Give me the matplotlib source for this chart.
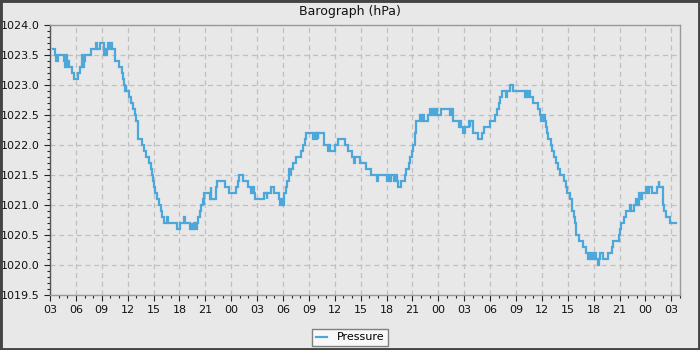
import matplotlib
matplotlib.use("Agg")
import matplotlib.pyplot as plt
from matplotlib.patches import Rectangle
from matplotlib.ticker import MultipleLocator

# hours since the first 03:00 tick, and pressure (hPa)
hours = [
    0.35, 0.55, 0.75, 0.9, 1.6, 1.75, 1.85, 1.95, 2.05, 2.15, 2.3, 2.55, 2.75,
    3.25, 3.5, 3.65, 3.75, 3.85, 3.95, 4.1, 4.75, 5.3, 5.45, 5.85, 6.2, 6.3,
    6.4, 6.5, 6.6, 6.75, 6.9, 7.05, 7.2, 7.5, 8.05, 8.3, 8.45, 8.55, 8.65,
    8.75, 8.85, 9.15, 9.4, 9.6, 9.85, 9.95, 10.15, 10.25, 10.65, 10.9, 11.15,
    11.45, 11.7, 11.8, 11.9, 12.05, 12.2, 12.45, 12.65, 12.85, 13.0, 13.2,
    13.6, 13.7, 14.75, 15.05, 15.5, 15.6, 16.2, 16.4, 16.5, 16.7, 16.85, 17.0,
    17.15, 17.35, 17.5, 17.7, 17.8, 17.9, 18.5, 18.62, 18.7, 19.2, 19.35,
    20.25, 20.7, 21.6, 21.8, 21.9, 22.4, 22.9, 23.3, 23.5, 23.6, 23.75, 24.75,
    25.1, 25.2, 25.6, 25.9, 26.5, 26.7, 26.85, 26.95, 27.1, 27.35, 27.45,
    27.65, 27.75, 27.85, 27.95, 28.1, 28.45, 29.1, 29.3, 29.6, 29.7, 30.5,
    30.6, 30.8, 30.9, 31.0, 31.1, 31.7, 32.2, 32.35, 32.45, 33.0, 33.4, 34.2,
    34.55, 34.95, 35.25, 35.35, 35.95, 36.65, 37.2, 37.85, 38.05, 39.0, 39.2,
    39.3, 39.5, 39.9, 40.05, 40.15, 40.35, 40.65, 41.1, 41.3, 41.55, 41.75,
    41.9, 42.05, 42.25, 42.45, 42.9, 43.05, 43.2, 43.35, 43.8, 44.0, 44.3,
    44.45, 44.6, 44.75, 44.9, 45.3, 46.35, 46.5, 46.65, 46.75, 47.4, 47.55,
    47.65, 47.9, 48.1, 48.3, 48.5, 48.65, 48.7, 49.0, 49.6, 50.0, 50.3, 50.95,
    51.55, 51.85, 52.0, 52.15, 52.4, 52.8, 52.95, 53.35, 53.7, 55.0, 55.15,
    55.3, 55.4, 55.6, 56.0, 56.5, 56.8, 56.9, 57.0, 57.1, 57.2, 57.3, 57.45,
    57.6, 57.75, 58.0, 58.15, 58.35, 58.65, 58.9, 59.1, 59.6, 59.75, 59.95,
    60.25, 60.45, 60.7, 60.8, 60.9, 61.0, 61.35, 61.8, 62.05, 62.3, 62.45,
    62.6, 62.8, 62.95, 63.1, 63.25, 63.5, 63.6, 63.75, 64.1, 64.7, 65.1,
    65.25, 65.9, 66.05, 66.2, 66.55, 66.7, 67.15, 67.3, 67.7, 67.95, 68.05,
    68.2, 68.3, 68.5, 68.6, 69.1, 69.3, 69.4, 69.75, 70.3, 70.55, 70.62,
    71.0, 71.15, 71.35, 71.8, 72.5,
]
pressure = [
    1023.6, 1023.5, 1023.4, 1023.5, 1023.4, 1023.3, 1023.5, 1023.3, 1023.4,
    1023.3, 1023.3, 1023.2, 1023.1, 1023.2, 1023.3, 1023.4, 1023.5, 1023.3,
    1023.4, 1023.5, 1023.6, 1023.7, 1023.6, 1023.7, 1023.6, 1023.5, 1023.6,
    1023.5, 1023.6, 1023.7, 1023.6, 1023.7, 1023.6, 1023.4, 1023.3, 1023.2,
    1023.1, 1023.0, 1022.9, 1023.0, 1022.9, 1022.8, 1022.7, 1022.6, 1022.5,
    1022.4, 1022.3, 1022.1, 1022.0, 1021.9, 1021.8, 1021.7, 1021.6, 1021.5,
    1021.4, 1021.3, 1021.2, 1021.1, 1021.0, 1020.9, 1020.8, 1020.7, 1020.8,
    1020.7, 1020.6, 1020.7, 1020.8, 1020.7, 1020.6, 1020.7, 1020.6, 1020.7,
    1020.6, 1020.7, 1020.8, 1020.9, 1021.0, 1021.1, 1021.0, 1021.2, 1021.1,
    1021.3, 1021.1, 1021.3, 1021.4, 1021.3, 1021.2, 1021.3, 1021.4, 1021.5,
    1021.4, 1021.3, 1021.2, 1021.3, 1021.2, 1021.1, 1021.2, 1021.1, 1021.2,
    1021.3, 1021.2, 1021.1, 1021.0, 1021.1, 1021.0, 1021.2, 1021.3, 1021.4,
    1021.5, 1021.6, 1021.5, 1021.6, 1021.7, 1021.8, 1021.9, 1022.0, 1022.1,
    1022.2, 1022.1, 1022.2, 1022.1, 1022.2, 1022.1, 1022.2, 1022.0, 1021.9,
    1022.0, 1021.9, 1022.0, 1022.1, 1022.0, 1021.9, 1021.8, 1021.7, 1021.8,
    1021.7, 1021.6, 1021.5, 1021.4, 1021.5, 1021.4, 1021.5, 1021.4, 1021.5,
    1021.4, 1021.5, 1021.4, 1021.3, 1021.4, 1021.5, 1021.6, 1021.7, 1021.8,
    1021.9, 1022.0, 1022.2, 1022.4, 1022.5, 1022.4, 1022.5, 1022.4, 1022.5,
    1022.6, 1022.5, 1022.6, 1022.5, 1022.6, 1022.5, 1022.6, 1022.5, 1022.6,
    1022.5, 1022.4, 1022.3, 1022.4, 1022.3, 1022.2, 1022.3, 1022.3, 1022.4,
    1022.3, 1022.4, 1022.2, 1022.1, 1022.2, 1022.3, 1022.4, 1022.5, 1022.6,
    1022.7, 1022.8, 1022.9, 1022.8, 1022.9, 1023.0, 1022.9, 1022.8, 1022.9,
    1022.8, 1022.9, 1022.8, 1022.7, 1022.6, 1022.5, 1022.4, 1022.5, 1022.4,
    1022.5, 1022.4, 1022.3, 1022.2, 1022.1, 1022.0, 1021.9, 1021.8, 1021.7,
    1021.6, 1021.5, 1021.4, 1021.3, 1021.2, 1021.1, 1020.9, 1020.8, 1020.7,
    1020.6, 1020.5, 1020.4, 1020.3, 1020.2, 1020.1, 1020.2, 1020.1, 1020.2,
    1020.1, 1020.2, 1020.1, 1020.0, 1020.1, 1020.2, 1020.1, 1020.2, 1020.3,
    1020.4, 1020.5, 1020.6, 1020.7, 1020.8, 1020.9, 1021.0, 1020.9, 1021.0,
    1021.1, 1021.0, 1021.1, 1021.2, 1021.1, 1021.2, 1021.3, 1021.2, 1021.3,
    1021.2, 1021.3, 1021.4, 1021.3, 1021.0, 1020.9, 1020.8, 1020.7, 1020.7,
]
tick_hours = list(range(0, 73, 3))
tick_labels = ["03", "06", "09", "12", "15", "18", "21", "00"] * 3 + ["03"]
title = "Barograph (hPa)"
series_name = "Pressure"

BG = "#e8e8e8"
LINE = "#4ca8db"

fig = plt.figure(figsize=(7, 3.5), dpi=100, facecolor=BG)
ax = fig.add_axes([50 / 700, 55 / 350, 630 / 700, 270 / 350])
ax.set_facecolor(BG)

ax.plot(hours, pressure, drawstyle="steps-post", color=LINE, lw=1.6,
        label=series_name, solid_joinstyle="miter")

ax.set_xlim(0, 73)
ax.set_ylim(1019.5, 1024.0)
ax.set_xticks(tick_hours)
ax.set_xticklabels(tick_labels)
ax.xaxis.set_minor_locator(MultipleLocator(1))
ax.yaxis.set_major_locator(MultipleLocator(0.5))
ax.yaxis.set_minor_locator(MultipleLocator(0.1))
ax.yaxis.set_major_formatter(matplotlib.ticker.FormatStrFormatter("%.1f"))

ax.grid(True, which="major", color="#c0c0c0", linestyle=(0, (4, 3)), lw=0.9)
ax.set_axisbelow(True)

ax.tick_params(which="major", direction="out", length=4, width=0.8,
               color="#222222", labelsize=8, labelcolor="#111111", pad=3)
ax.tick_params(which="minor", direction="out", length=2, width=0.8,
               color="#222222")
ax.tick_params(axis="y", which="major", length=4.5)
ax.tick_params(axis="y", which="minor", length=2.5)

for side in ("top", "right", "bottom"):
    ax.spines[side].set_color("#9a9a9a")
    ax.spines[side].set_linewidth(1.0)
ax.spines["left"].set_color("#555555")
ax.spines["left"].set_linewidth(1.0)

fig.text(0.5, 1 - 12 / 350, title, ha="center", va="center",
         fontsize=9, color="#111111")

leg = fig.legend(loc="center", bbox_to_anchor=(0.5, 12.5 / 350),
                 fontsize=8, handlelength=1.0, handletextpad=0.9,
                 borderpad=0.35, fancybox=False, framealpha=1,
                 borderaxespad=0)
leg.get_frame().set_facecolor("#f8f8f8")
leg.get_frame().set_edgecolor("#808080")
leg.get_frame().set_linewidth(1.0)

fig.patches.append(Rectangle((0, 0), 1, 1, transform=fig.transFigure,
                             fill=False, edgecolor="#444444", lw=3.5,
                             zorder=10))

fig.savefig("out.png", dpi=100, facecolor=BG)
